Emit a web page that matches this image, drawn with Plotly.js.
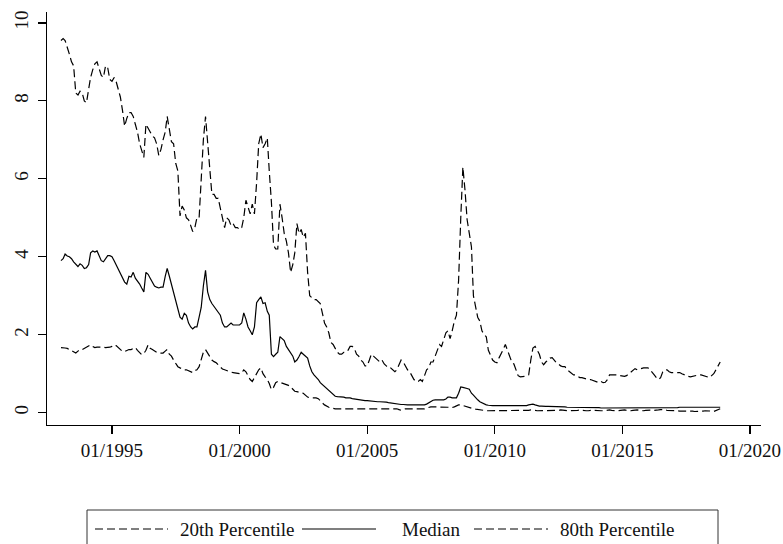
<!DOCTYPE html>
<html>
<head>
<meta charset="utf-8">
<script src="https://cdn.plot.ly/plotly-3.0.1.min.js"></script>
<style>
  html, body { margin: 0; padding: 0; background: #fff; }
  #chart { width: 783px; height: 544px; }
</style>
</head>
<body>
<div id="chart"></div>
<script>
// Monthly series, January 1993 through November 2018 (one row per year).
const firstYear = 1993;

const p20 = [
  1.67,1.67,1.66,1.65,1.62,1.60,1.55,1.53,1.58,1.62,1.62,1.65, // 1993
  1.68,1.72,1.74,1.70,1.67,1.68,1.68,1.69,1.68,1.67,1.67,1.68, // 1994
  1.70,1.74,1.72,1.67,1.62,1.57,1.57,1.60,1.62,1.62,1.65,1.67, // 1995
  1.60,1.53,1.49,1.52,1.60,1.74,1.65,1.62,1.58,1.55,1.53,1.53, // 1996
  1.53,1.58,1.62,1.50,1.45,1.35,1.25,1.18,1.15,1.12,1.10,1.10, // 1997
  1.08,1.05,1.03,1.08,1.10,1.18,1.35,1.55,1.62,1.53,1.45,1.35, // 1998
  1.31,1.28,1.23,1.18,1.12,1.10,1.08,1.05,1.04,1.03,1.02,1.00, // 1999
  1.00,1.02,1.10,1.05,0.95,0.85,0.80,0.90,1.03,1.10,1.15,1.00, // 2000
  0.92,0.85,0.75,0.59,0.65,0.77,0.80,0.78,0.77,0.75,0.72,0.70, // 2001
  0.66,0.60,0.55,0.54,0.52,0.51,0.50,0.45,0.40,0.38,0.38,0.38, // 2002
  0.38,0.36,0.30,0.25,0.20,0.16,0.14,0.12,0.10,0.10,0.10,0.10, // 2003
  0.10,0.10,0.10,0.10,0.10,0.10,0.10,0.10,0.10,0.10,0.10,0.10, // 2004
  0.10,0.10,0.10,0.10,0.10,0.10,0.10,0.10,0.10,0.10,0.10,0.10, // 2005
  0.10,0.10,0.10,0.08,0.06,0.08,0.10,0.10,0.10,0.10,0.10,0.10, // 2006
  0.10,0.10,0.10,0.10,0.12,0.14,0.15,0.15,0.15,0.15,0.15,0.15, // 2007
  0.15,0.15,0.14,0.13,0.13,0.15,0.18,0.20,0.20,0.18,0.16,0.14, // 2008
  0.12,0.10,0.10,0.09,0.08,0.08,0.07,0.06,0.05,0.05,0.05,0.05, // 2009
  0.05,0.05,0.05,0.05,0.05,0.05,0.05,0.05,0.05,0.05,0.05,0.05, // 2010
  0.05,0.05,0.05,0.05,0.06,0.07,0.07,0.06,0.05,0.05,0.05,0.05, // 2011
  0.05,0.05,0.05,0.05,0.05,0.05,0.06,0.07,0.06,0.05,0.05,0.05, // 2012
  0.05,0.05,0.05,0.06,0.07,0.06,0.05,0.05,0.05,0.06,0.07,0.06, // 2013
  0.05,0.05,0.05,0.05,0.06,0.07,0.07,0.06,0.05,0.05,0.05,0.06, // 2014
  0.07,0.07,0.06,0.05,0.05,0.06,0.07,0.07,0.06,0.05,0.05,0.06, // 2015
  0.07,0.08,0.07,0.06,0.06,0.07,0.08,0.08,0.07,0.06,0.06,0.06, // 2016
  0.05,0.05,0.05,0.04,0.04,0.04,0.05,0.05,0.05,0.04,0.03,0.03, // 2017
  0.03,0.03,0.04,0.05,0.05,0.05,0.04,0.03,0.05,0.08,0.10       // 2018
];

const median = [
  3.90,3.95,4.07,4.02,4.00,3.95,3.87,3.80,3.75,3.82,3.78,3.70, // 1993
  3.72,3.80,4.10,4.15,4.12,4.15,4.00,3.90,3.87,3.95,4.03,4.03, // 1994
  4.00,3.90,3.80,3.65,3.55,3.45,3.35,3.30,3.50,3.48,3.60,3.45, // 1995
  3.38,3.30,3.20,3.10,3.60,3.55,3.45,3.35,3.25,3.22,3.20,3.22, // 1996
  3.22,3.50,3.70,3.50,3.30,3.10,2.90,2.70,2.45,2.40,2.55,2.50, // 1997
  2.30,2.20,2.15,2.20,2.20,2.45,2.70,3.25,3.65,3.10,2.90,2.80, // 1998
  2.72,2.65,2.60,2.50,2.30,2.20,2.20,2.25,2.30,2.25,2.25,2.25, // 1999
  2.25,2.30,2.56,2.40,2.20,2.10,2.00,2.20,2.82,2.90,2.97,2.80, // 2000
  2.82,2.60,2.50,1.50,1.44,1.50,1.55,1.95,1.90,1.85,1.70,1.62, // 2001
  1.55,1.45,1.30,1.35,1.44,1.55,1.50,1.45,1.40,1.20,1.05,0.97, // 2002
  0.92,0.85,0.77,0.72,0.65,0.60,0.55,0.50,0.45,0.42,0.41,0.41, // 2003
  0.40,0.40,0.38,0.38,0.38,0.36,0.35,0.35,0.34,0.33,0.32,0.31, // 2004
  0.31,0.30,0.30,0.30,0.29,0.28,0.28,0.28,0.28,0.27,0.26,0.25, // 2005
  0.25,0.24,0.22,0.22,0.21,0.21,0.20,0.20,0.20,0.20,0.20,0.20, // 2006
  0.20,0.20,0.20,0.20,0.22,0.25,0.30,0.32,0.33,0.33,0.33,0.33, // 2007
  0.33,0.35,0.40,0.40,0.38,0.38,0.38,0.50,0.66,0.65,0.64,0.62, // 2008
  0.60,0.50,0.45,0.38,0.33,0.28,0.25,0.22,0.20,0.19,0.18,0.18, // 2009
  0.18,0.18,0.18,0.18,0.18,0.18,0.18,0.18,0.18,0.17,0.17,0.17, // 2010
  0.17,0.17,0.17,0.18,0.20,0.22,0.22,0.20,0.18,0.17,0.17,0.16, // 2011
  0.16,0.16,0.16,0.15,0.15,0.15,0.15,0.15,0.15,0.15,0.14,0.14, // 2012
  0.14,0.14,0.14,0.14,0.14,0.14,0.13,0.13,0.13,0.13,0.13,0.13, // 2013
  0.13,0.13,0.12,0.12,0.12,0.12,0.12,0.12,0.12,0.12,0.12,0.12, // 2014
  0.12,0.12,0.12,0.12,0.12,0.12,0.12,0.13,0.13,0.13,0.13,0.13, // 2015
  0.13,0.13,0.13,0.13,0.13,0.13,0.13,0.13,0.13,0.13,0.13,0.13, // 2016
  0.13,0.13,0.13,0.14,0.14,0.14,0.14,0.14,0.14,0.14,0.14,0.14, // 2017
  0.14,0.14,0.14,0.14,0.14,0.14,0.14,0.14,0.13,0.14,0.14       // 2018
];

const p80 = [
  9.55,9.60,9.55,9.40,9.20,9.00,8.90,8.20,8.15,8.25,8.20,8.00, // 1993
  7.95,8.30,8.60,8.80,8.95,9.00,8.85,8.65,8.60,8.90,8.85,8.55, // 1994
  8.50,8.60,8.50,8.30,8.10,7.75,7.35,7.55,7.70,7.70,7.60,7.40, // 1995
  7.20,6.90,6.70,6.55,7.40,7.30,7.20,7.10,7.05,6.90,6.60,6.75, // 1996
  7.00,7.20,7.60,7.30,6.95,6.90,6.40,6.20,5.05,5.30,5.20,5.00, // 1997
  4.95,4.80,4.65,4.75,5.00,5.00,5.90,7.00,7.60,7.00,6.20,5.60, // 1998
  5.60,5.50,5.50,5.20,5.00,4.75,5.00,4.95,4.80,4.85,4.75,4.75, // 1999
  4.70,4.75,5.00,5.45,5.30,5.10,5.35,5.10,5.90,6.90,7.15,6.80, // 2000
  6.90,7.05,6.20,5.40,4.30,4.20,4.20,5.35,5.00,4.60,4.40,4.10, // 2001
  3.60,3.80,4.10,4.85,4.60,4.70,4.50,4.60,3.60,3.00,2.95,2.90, // 2002
  2.90,2.85,2.80,2.55,2.30,2.20,2.05,1.80,1.75,1.65,1.55,1.50, // 2003
  1.50,1.55,1.55,1.60,1.70,1.70,1.65,1.50,1.45,1.35,1.30,1.20, // 2004
  1.20,1.35,1.50,1.45,1.40,1.35,1.30,1.35,1.25,1.20,1.15,1.15, // 2005
  1.10,1.05,1.10,1.25,1.35,1.30,1.20,1.10,1.05,0.95,0.85,0.80, // 2006
  0.80,0.85,0.80,0.95,1.10,1.15,1.30,1.30,1.45,1.60,1.75,1.70, // 2007
  1.85,2.05,2.10,1.90,2.10,2.35,2.50,3.40,5.00,6.30,5.70,4.95, // 2008
  4.60,4.25,3.00,2.70,2.45,2.35,2.10,2.00,1.95,1.60,1.45,1.35, // 2009
  1.30,1.28,1.40,1.50,1.62,1.75,1.60,1.45,1.30,1.25,1.10,0.95, // 2010
  0.92,0.92,0.93,0.95,0.97,1.36,1.66,1.70,1.60,1.50,1.30,1.23, // 2011
  1.30,1.36,1.40,1.41,1.35,1.28,1.25,1.20,1.18,1.18,1.10,1.05, // 2012
  1.00,0.97,0.97,0.93,0.90,0.90,0.88,0.86,0.85,0.85,0.83,0.80, // 2013
  0.78,0.77,0.80,0.77,0.78,0.85,0.97,0.97,0.96,0.97,0.97,0.95, // 2014
  0.93,0.93,0.95,1.00,1.05,1.10,1.13,1.10,1.12,1.15,1.15,1.15, // 2015
  1.15,1.10,1.05,0.97,0.90,0.85,0.90,1.05,1.10,1.10,1.05,1.03, // 2016
  1.03,1.03,1.03,1.03,1.00,0.97,0.95,0.93,0.92,0.93,0.95,0.97, // 2017
  0.97,0.97,0.95,0.93,0.92,0.90,0.95,1.00,1.10,1.20,1.30       // 2018
];

const xTickYears = [1995, 2000, 2005, 2010, 2015, 2020];
const yTicks = [0, 2, 4, 6, 8, 10];

// Month stamps for the series (first day of each month).
const months = p80.map((_, i) => {
  const y = firstYear + Math.floor(i / 12);
  const m = (i % 12) + 1;
  return y + '-' + String(m).padStart(2, '0') + '-01';
});

const ink = '#000000';
const serif = 'Liberation Serif, Times New Roman, serif';
const dashed = '8px,4px';

const series = [
  { name: '20th Percentile', values: p20,    dash: dashed },
  { name: 'Median',          values: median, dash: 'solid' },
  { name: '80th Percentile', values: p80,    dash: dashed }
];

const traces = series.map(s => ({
  type: 'scatter',
  mode: 'lines',
  name: s.name,
  x: months,
  y: s.values,
  line: { color: ink, width: 1.2, dash: s.dash },
  hoverinfo: 'skip'
}));

// Plot-area geometry in pixels, used to place the boxed legend underneath.
const W = 783, H = 544;
const M = { l: 47, r: 22, t: 12, b: 119 };
const pw = W - M.l - M.r, ph = H - M.t - M.b;
const px = v => (v - M.l) / pw;
const py = v => (H - M.b - v) / ph;

const legendRow = 529;
const legendKeys = [
  { x0: 95,  x1: 168, tx: 178 },
  { x0: 302, x1: 376, tx: 400 },
  { x0: 474, x1: 548, tx: 558 }
];

const shapes = [{
  type: 'rect', xref: 'paper', yref: 'paper',
  x0: px(87), x1: px(718), y0: py(552), y1: py(510),
  line: { color: '#333', width: 1 }, fillcolor: 'rgba(0,0,0,0)'
}];
const annotations = [];
series.forEach((s, i) => {
  const k = legendKeys[i];
  shapes.push({
    type: 'line', xref: 'paper', yref: 'paper',
    x0: px(k.x0), x1: px(k.x1), y0: py(legendRow), y1: py(legendRow),
    line: { color: ink, width: 1.2, dash: s.dash }
  });
  annotations.push({
    xref: 'paper', yref: 'paper', x: px(k.tx), y: py(legendRow),
    xanchor: 'left', yanchor: 'middle', showarrow: false,
    text: s.name, font: { family: serif, size: 19, color: '#111' }
  });
});

const layout = {
  width: W, height: H,
  margin: M,
  paper_bgcolor: '#fff', plot_bgcolor: '#fff',
  showlegend: false,
  font: { family: serif, size: 19, color: '#111' },
  xaxis: {
    type: 'date',
    range: ['1992-06-15', '2020-06-07'],
    tickvals: xTickYears.map(y => y + '-01-01'),
    ticktext: xTickYears.map(y => '01/' + y),
    ticks: 'outside', ticklen: 8, tickwidth: 1.2, tickcolor: ink,
    showline: true, linecolor: ink, linewidth: 1.3,
    showgrid: false, zeroline: false,
    tickfont: { family: serif, size: 19, color: '#111' }
  },
  yaxis: {
    range: [-0.316, 10.28],
    tickvals: yTicks,
    ticktext: yTicks.map(String),
    tickangle: -90,
    ticks: 'outside', ticklen: 8, tickwidth: 1.2, tickcolor: ink,
    ticklabelstandoff: 2,
    showline: true, linecolor: ink, linewidth: 1.3,
    showgrid: false, zeroline: false,
    tickfont: { family: serif, size: 19, color: '#111' }
  },
  shapes: shapes,
  annotations: annotations
};

Plotly.newPlot('chart', traces, layout, { displayModeBar: false, staticPlot: true });
</script>
</body>
</html>
